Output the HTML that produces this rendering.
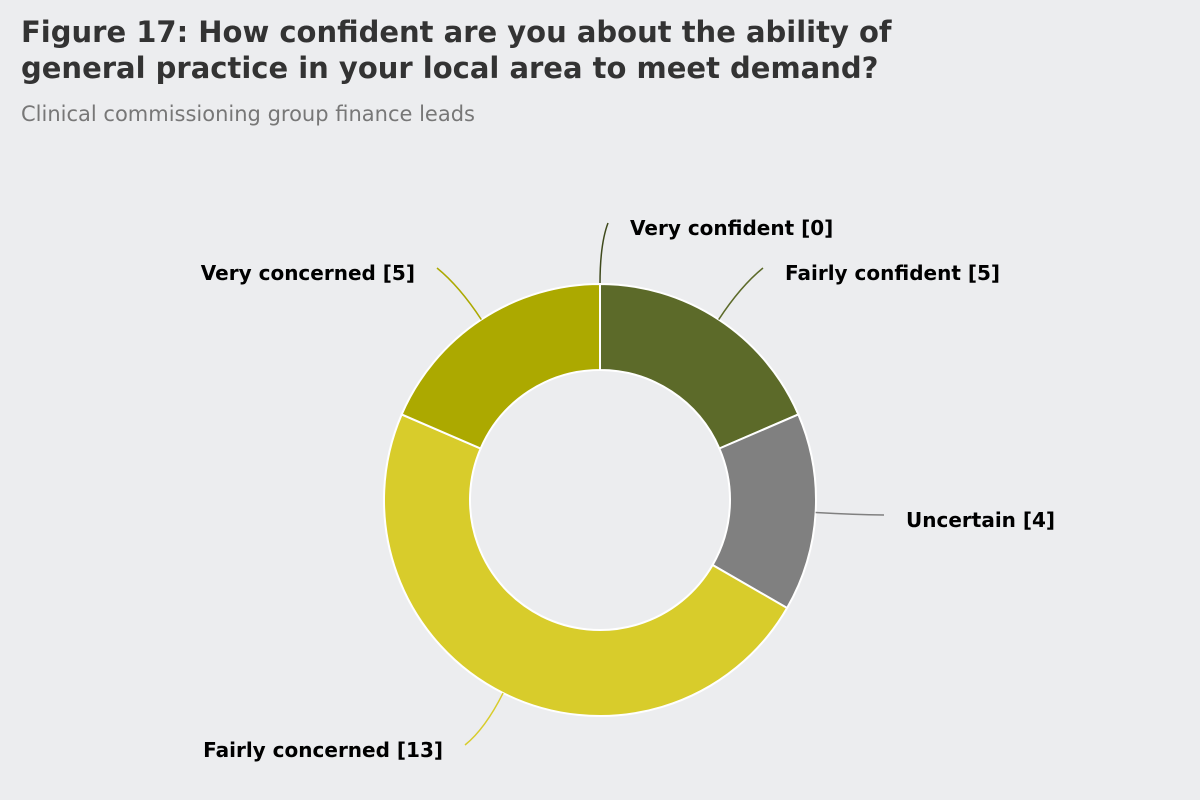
<!DOCTYPE html>
<html><head><meta charset="utf-8"><style>
body{margin:0;background:#ecedef;width:1200px;height:800px;overflow:hidden;font-family:"DejaVu Sans","Liberation Sans",sans-serif}
h1{position:absolute;left:21px;top:14px;margin:0;font-size:29px;line-height:36px;font-weight:bold;color:#333}
.sub{position:absolute;left:21px;top:102px;font-size:21px;color:#777}
</style></head><body>
<h1>Figure 17: How confident are you about the ability of<br>general practice in your local area to meet demand?</h1>
<div class="sub">Clinical commissioning group finance leads</div>
<svg id="chart" width="1200" height="800" style="position:absolute;left:0;top:0"></svg>
<script>
const categories=["Very confident","Fairly confident","Uncertain","Fairly concerned","Very concerned"];
const values=[0,5,4,13,5];
const colors=["#3f4a1c","#5c6a29","#808080","#d8cc2b","#aca900"];
// label layout (anchor points, not data)
const labelPos=[[630,228,"start"],[785,273,"start"],[906,520,"start"],[443,750,"end"],[415,273,"end"]];
const cx=600,cy=500,R=216,r=130;
const svg=document.getElementById('chart');
const NS="http://www.w3.org/2000/svg";
const total=values.reduce((a,b)=>a+b,0);
function pt(a,rad){return [cx+rad*Math.sin(a),cy-rad*Math.cos(a)];}
let acc=0;
values.forEach((v,i)=>{
  const a0=acc/total*2*Math.PI; acc+=v; const a1=acc/total*2*Math.PI;
  if(v>0){
    const large=(a1-a0)>Math.PI?1:0;
    const p0=pt(a0,R),p1=pt(a1,R),q1=pt(a1,r),q0=pt(a0,r);
    const p=document.createElementNS(NS,'path');
    p.setAttribute('d',`M${p0}A${R},${R} 0 ${large} 1 ${p1}L${q1}A${r},${r} 0 ${large} 0 ${q0}Z`);
    p.setAttribute('fill',colors[i]);p.setAttribute('stroke','#fff');p.setAttribute('stroke-width','2');
    
    
    svg.appendChild(p);
  }
  const am=(a0+a1)/2;
  const s=pt(am,R);
  const [lx,ly,anc]=labelPos[i];
  const ex=anc==="start"?lx-22:lx+22, ey=ly-5;
  const mid=pt(am,R+40);
  const c=document.createElementNS(NS,'path');
  c.setAttribute('d',`M${s[0]},${s[1]}Q${mid[0]},${mid[1]} ${ex},${ey}`);
  c.setAttribute('fill','none');c.setAttribute('stroke',colors[i]);c.setAttribute('stroke-width','1.5');
  
  
  svg.appendChild(c);
  const t=document.createElementNS(NS,'text');
  t.setAttribute('x',lx);t.setAttribute('y',ly+7);t.setAttribute('text-anchor',anc);
  t.setAttribute('font-size','20');t.setAttribute('font-weight','bold');t.setAttribute('fill','#000');
  t.setAttribute('font-family','"DejaVu Sans","Liberation Sans",sans-serif');
  t.textContent=categories[i]+" ["+v+"]";
  
  
  svg.appendChild(t);
});
</script>
</body></html>
